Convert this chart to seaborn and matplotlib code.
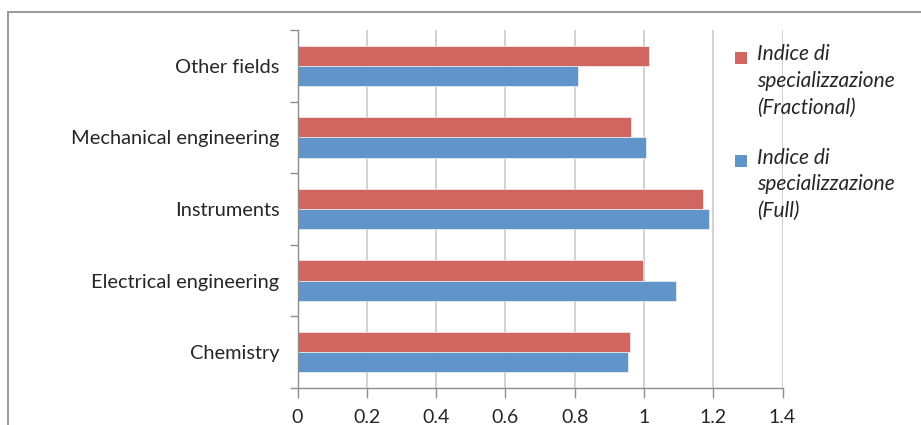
import numpy as np
import pandas as pd
import matplotlib
matplotlib.use('Agg')
import matplotlib.pyplot as plt
from matplotlib.lines import Line2D
from matplotlib.patches import Rectangle, Patch
from matplotlib.legend_handler import HandlerPatch
import seaborn as sns

# ── Data ──────────────────────────────────────────────────────────────────────

FIELDS = ['Other fields', 'Mechanical engineering', 'Instruments',
          'Electrical engineering', 'Chemistry']
FRACTIONAL = [1.015, 0.963, 1.171, 0.998, 0.960]
FULL       = [0.810, 1.007, 1.188, 1.092, 0.955]
SERIES = ['Indice di\nspecializzazione\n(Fractional)',
          'Indice di\nspecializzazione\n(Full)']
XTICKS = [0, 0.2, 0.4, 0.6, 0.8, 1, 1.2, 1.4]
XTICKLABELS = ['0', '0.2', '0.4', '0.6', '0.8', '1', '1.2', '1.4']

RED  = '#D16660'
BLUE = '#6194C9'
GRID = '#C6C6C6'
AXIS = '#8E8E8E'
TEXT = '#262626'

LEG_FS  = 15
LINE_SP = 1.42

df = pd.DataFrame({
    'field': FIELDS * 2,
    'value': FRACTIONAL + FULL,
    'series': [SERIES[0]] * len(FIELDS) + [SERIES[1]] * len(FIELDS),
})


# legend square sitting next to the first text line, like Excel does
def top_square(legend, orig_handle, xdescent, ydescent, width, height, fontsize):
    s = 0.58 * fontsize
    shift = LINE_SP * 0.80 * fontsize
    return Rectangle((-xdescent + (width - s) / 2,
                      -ydescent + height / 2 - s / 2 + shift), s, s)


# ── Plot ──────────────────────────────────────────────────────────────────────

sns.set_style('white')
plt.rcParams['font.family'] = ['Lato', 'DejaVu Sans']

W, H = 921, 425
fig = plt.figure(figsize=(W / 100, H / 100), dpi=100)
ax = fig.add_axes([297.5 / W, 1 - 388 / H, (782.5 - 297.5) / W, (388 - 30) / H])

sns.barplot(data=df, y='field', x='value', hue='series', order=FIELDS,
            hue_order=SERIES, palette=[RED, BLUE], orient='h',
            width=0.567, ax=ax, legend=False,
            edgecolor='white', linewidth=0.4, saturation=1)

ax.set_xlim(0, 1.4)
ax.set_ylim(len(FIELDS) - 0.5, -0.5)
ax.set_xlabel('')
ax.set_ylabel('')

# grid
ax.set_xticks(XTICKS)
ax.set_xticklabels(XTICKLABELS, fontsize=14, color=TEXT)
ax.xaxis.grid(True, color=GRID, linewidth=1.1)
ax.set_axisbelow(True)

# category labels at centres, tick marks at the category boundaries
ax.set_yticks(np.arange(len(FIELDS) + 1) - 0.5)
ax.set_yticklabels([])
ax.set_yticks(np.arange(len(FIELDS)), minor=True)
ax.set_yticklabels(FIELDS, minor=True, fontsize=14.4, color=TEXT)
ax.tick_params(axis='y', which='major', length=6, width=1, color=AXIS,
               direction='out', left=True)
ax.tick_params(axis='y', which='minor', length=0, pad=13)
ax.tick_params(axis='x', length=7, width=1, color=AXIS, direction='out',
               bottom=True, pad=8)

for side in ['top', 'right']:
    ax.spines[side].set_visible(False)
for side in ['left', 'bottom']:
    ax.spines[side].set_color(AXIS)
    ax.spines[side].set_linewidth(1)

# legend
handles = [Patch(facecolor=c, edgecolor='none') for c in (RED, BLUE)]
leg = fig.legend(handles, SERIES, loc='upper left',
                 bbox_to_anchor=(733 / W, 1 - 44 / H), frameon=False,
                 prop={'style': 'italic', 'size': LEG_FS},
                 handler_map={Patch: HandlerPatch(patch_func=top_square)},
                 handlelength=0.8, handletextpad=0.35, labelspacing=1.45,
                 borderaxespad=0, borderpad=0)
for t in leg.get_texts():
    t.set_linespacing(LINE_SP)
    t.set_color(TEXT)

# outer chart frame (top and left edges visible)
fig.add_artist(Line2D([8 / W, 1], [1 - 12 / H, 1 - 12 / H], color='#9A9A9A',
                      linewidth=1.4, transform=fig.transFigure))
fig.add_artist(Line2D([8 / W, 8 / W], [0, 1 - 12 / H], color='#9A9A9A',
                      linewidth=1.4, transform=fig.transFigure))

fig.savefig('out.png', dpi=100)
plt.close(fig)
